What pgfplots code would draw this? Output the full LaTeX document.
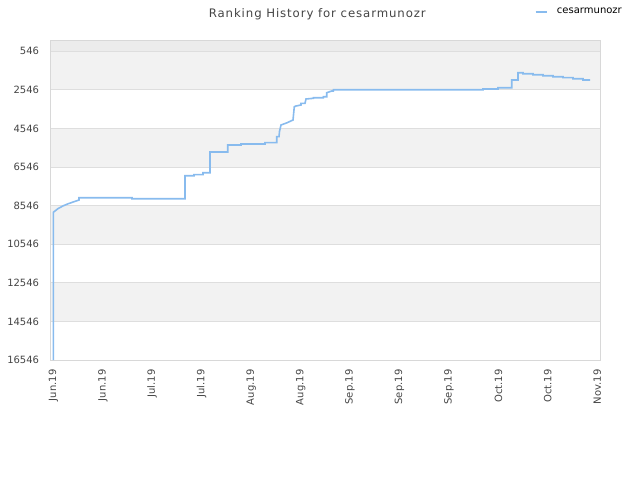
\documentclass[border=0pt]{standalone}
\usepackage{pgfplots}
\pgfplotsset{compat=1.18}
\usepackage{fontspec}
\setmainfont{DejaVu Sans}
\newfontfamily\titlefont[LetterSpace=7.7]{DejaVu Sans}
\definecolor{linec}{RGB}{136,187,238}
\definecolor{bandc}{RGB}{242,242,242}
\definecolor{topc}{RGB}{236,236,236}
\definecolor{gridc}{RGB}{222,222,222}
\definecolor{framec}{RGB}{216,216,216}
\definecolor{textc}{RGB}{68,68,68}
\begin{document}
\begin{tikzpicture}
\begin{axis}[
  at={(37.5pt,90pt)}, anchor=south west,
  scale only axis, width=412.5pt, height=240pt,
  xmin=50, xmax=600, ymin=-40, ymax=16546,
  y dir=reverse,
  scaled y ticks=false, scaled x ticks=false,
  axis line style={framec},
  tick style={draw=none},
  major tick length=0pt,
  ytick={546,2546,4546,6546,8546,10546,12546,14546,16546},
  yticklabels={546,2546,4546,6546,8546,10546,12546,14546,16546},
  xtick={53.3,102.8,152.2,201.7,251.1,300.6,350.0,399.5,448.9,498.4,547.8,597.3},
  xticklabels={Jun.19,Jun.19,Jul.19,Jul.19,Aug.19,Aug.19,Sep.19,Sep.19,Sep.19,Oct.19,Oct.19,Nov.19},
  ymajorgrids, grid style={gridc, line width=0.75pt},
  yticklabel style={font=\fontsize{7.5}{8}\selectfont, text=textc, anchor=east, inner sep=0pt},
  yticklabel shift=8pt,
  xticklabel style={font=\fontsize{7.5}{8}\selectfont, text=textc, rotate=90, anchor=east, inner sep=0pt},
  xticklabel shift=7pt,
  title={Ranking History for cesarmunozr},
  title style={font=\titlefont\fontsize{8.8}{10}\selectfont, text=textc, at={(0.486,1)}, anchor=south, inner sep=0pt, yshift=9pt},
  legend style={at={(1.045,1.0875)}, anchor=east, draw=none, fill=none, inner sep=0pt,
    font=\fontsize{7.5}{8}\selectfont},
  legend cell align=left,
  legend image code/.code={\draw[#1] (0pt,0pt) -- (8.25pt,0pt); \path[draw=none] (0pt,0pt) -- (14pt,0pt);},
  set layers,
]
\addplot[draw=none, fill=topc, forget plot, on layer=axis background] coordinates {(50,-40) (600,-40) (600,546) (50,546)} -- cycle;
\addplot[draw=none, fill=bandc, forget plot, on layer=axis background] coordinates {(50,546) (600,546) (600,2546) (50,2546)} -- cycle;
\addplot[draw=none, fill=bandc, forget plot, on layer=axis background] coordinates {(50,4546) (600,4546) (600,6546) (50,6546)} -- cycle;
\addplot[draw=none, fill=bandc, forget plot, on layer=axis background] coordinates {(50,8546) (600,8546) (600,10546) (50,10546)} -- cycle;
\addplot[draw=none, fill=bandc, forget plot, on layer=axis background] coordinates {(50,12546) (600,12546) (600,14546) (50,14546)} -- cycle;
\addplot[color=linec, line width=1.2pt] coordinates {
(53.3,16546) (53.3,8891) (58,8700) (63,8560) (68,8450) (73,8360) (79,8253) (79,8134)
(132,8134) (132,8186) (185,8186) (185,6994) (194,6994) (194,6940) (203,6940) (203,6838)
(210,6838) (210,5765) (227.7,5765) (227.7,5403) (241,5403) (241,5350) (265,5350) (265,5283)
(276.7,5283) (276.7,4972) (279,4972) (279.5,4700) (281,4366) (287,4250) (293,4107) (294.3,3417)
(296,3380) (301,3329) (301,3241) (305,3241) (306,3018) (313.3,2982) (313.3,2951) (323.3,2951)
(323.3,2899) (326.7,2899) (326.7,2692) (331.7,2604) (333.3,2604) (333.3,2536)
(483,2536) (483,2500) (498,2500) (498,2433) (511.7,2433) (511.7,2034) (518,2034) (518,1655)
(523,1655) (523,1707) (533,1707) (533,1759) (543,1759) (543,1811) (553,1811) (553,1863)
(563,1863) (563,1914) (573,1914) (573,1966) (583,1966) (583,2034) (590,2034)
};
\addlegendentry{cesarmunozr}
\end{axis}
\path (0pt,0pt) rectangle (480pt,360pt);
\end{tikzpicture}
\end{document}
